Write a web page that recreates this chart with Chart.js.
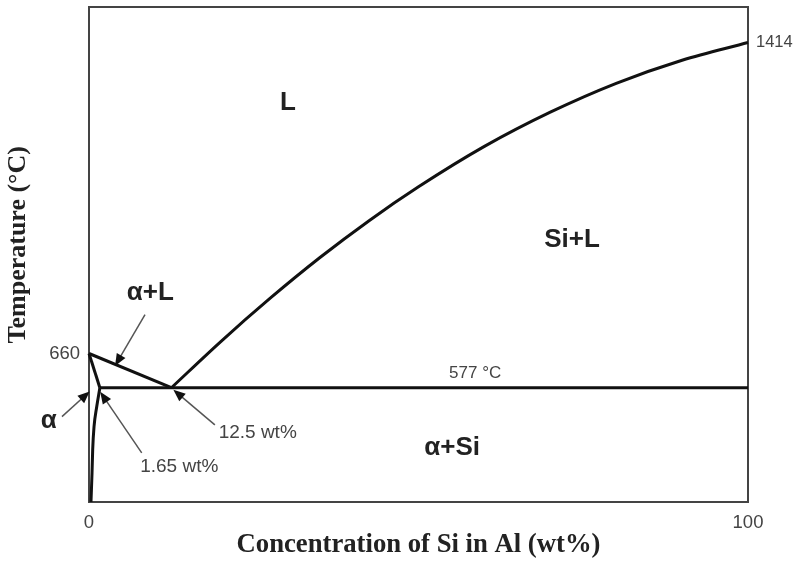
<!DOCTYPE html>
<html>
<head>
<meta charset="utf-8">
<script src="https://cdn.jsdelivr.net/npm/chart.js@4.4.0/dist/chart.umd.min.js"></script>
<style>
  body { margin: 0; background: #fff; }
  canvas { display: block; }
</style>
</head>
<body>
<canvas id="phaseChart" width="801" height="562"></canvas>
<script>
// Al-Si phase diagram: composition in wt% Si, temperature in °C
const liquidusSiX = [12.5, 20, 27.5, 35, 42.5, 50, 60, 70, 80, 90, 100];
const liquidusSiT = [577, 689, 794, 892, 982, 1064, 1162, 1245, 1315, 1371, 1414];
const liquidusAlX = [0, 12.5];
const liquidusAlT = [660, 577];
const solidusX = [0, 1.65];
const solidusT = [660, 577];
const solvusX = [0.3, 0.46, 0.56, 0.76, 1.17, 1.65];
const solvusT = [300, 371, 427, 482, 531, 577];
const eutecticX = [1.65, 100];
const eutecticT = [577, 577];

const xTicks = [0, 100];
const yLeftTicks = [660];
const yRightTicks = [1414];

// region names and notes: [text, x, T]
const phaseLabels = [
  ["L", 30.2, 1268],
  ["Si+L", 73.3, 936],
  ["α+L", 9.3, 807],
  ["α", -6.1, 496],
  ["α+Si", 55.1, 431]
];
const noteLabels = [
  ["577 °C", 58.6, 612, 17],
  ["12.5 wt%", 25.6, 468, 19],
  ["1.65 wt%", 13.7, 385, 19]
];
// arrows: [tailX, tailT, tipX, tipT]
const arrows = [
  [8.5, 754, 3.95, 630],
  [-4.1, 507, 0.1, 568],
  [8.0, 419, 1.7, 567],
  [19.1, 487, 12.8, 572]
];

function toPoints(xs, ts) {
  return xs.map((x, i) => ({ x: x, y: ts[i] }));
}

function phaseLine(xs, ts, smooth) {
  return {
    data: toPoints(xs, ts),
    showLine: true,
    borderColor: "#111",
    borderWidth: 3,
    pointRadius: 0,
    cubicInterpolationMode: smooth ? "monotone" : "default",
    clip: false
  };
}

const annotationPlugin = {
  id: "phaseNotes",
  afterDatasetsDraw(chart) {
    const ctx = chart.ctx;
    const sx = chart.scales.x;
    const sy = chart.scales.y;
    ctx.save();

    arrows.forEach(a => {
      const x0 = sx.getPixelForValue(a[0]), y0 = sy.getPixelForValue(a[1]);
      const x1 = sx.getPixelForValue(a[2]), y1 = sy.getPixelForValue(a[3]);
      const ang = Math.atan2(y1 - y0, x1 - x0);
      ctx.strokeStyle = "#555";
      ctx.lineWidth = 1.5;
      ctx.beginPath();
      ctx.moveTo(x0, y0);
      ctx.lineTo(x1 - 6 * Math.cos(ang), y1 - 6 * Math.sin(ang));
      ctx.stroke();
      // arrow head
      const len = 12, half = 5;
      const bx = x1 - len * Math.cos(ang), by = y1 - len * Math.sin(ang);
      ctx.fillStyle = "#111";
      ctx.beginPath();
      ctx.moveTo(x1, y1);
      ctx.lineTo(bx + half * Math.sin(ang), by - half * Math.cos(ang));
      ctx.lineTo(bx - half * Math.sin(ang), by + half * Math.cos(ang));
      ctx.closePath();
      ctx.fill();
    });

    ctx.textAlign = "center";
    ctx.textBaseline = "middle";
    ctx.fillStyle = "#222";
    ctx.font = "bold 26px 'Liberation Sans', Arial, sans-serif";
    phaseLabels.forEach(l => {
      ctx.fillText(l[0], sx.getPixelForValue(l[1]), sy.getPixelForValue(l[2]));
    });
    ctx.fillStyle = "#444";
    noteLabels.forEach(l => {
      ctx.font = l[3] + "px 'Liberation Sans', Arial, sans-serif";
      ctx.fillText(l[0], sx.getPixelForValue(l[1]), sy.getPixelForValue(l[2]));
    });
    ctx.restore();
  }
};

const tickFont = { family: "'Liberation Sans', Arial, sans-serif", size: 18.5 };
const rightTickFont = { family: "'Liberation Sans', Arial, sans-serif", size: 16.5 };
const titleFont = { family: "'Liberation Serif', 'Times New Roman', serif", size: 26.7, weight: "bold" };
const yTitleFont = { family: "'Liberation Serif', 'Times New Roman', serif", size: 26, weight: "bold" };
const frame = { color: "#444", width: 2 };
const noGrid = { display: false, drawTicks: false };
const plainTick = v => String(v);

// keep the plot box fixed: no extra room for tick label overhang
function fixBox(s, w, h) {
  if (w !== null) s.width = w;
  if (h !== null) s.height = h;
  s.paddingTop = 0;
  s.paddingBottom = 0;
  s.paddingLeft = 0;
  s.paddingRight = 0;
}

new Chart(document.getElementById("phaseChart"), {
  type: "scatter",
  data: {
    datasets: [
      phaseLine(liquidusSiX, liquidusSiT, true),
      phaseLine(liquidusAlX, liquidusAlT, false),
      phaseLine(solidusX, solidusT, false),
      phaseLine(solvusX, solvusT, true),
      phaseLine(eutecticX, eutecticT, false)
    ]
  },
  options: {
    responsive: false,
    animation: false,
    layout: { padding: 0 },
    plugins: { legend: { display: false }, tooltip: { enabled: false } },
    scales: {
      x: {
        type: "linear", position: "bottom", min: 0, max: 100,
        grid: noGrid, border: frame,
        ticks: { font: tickFont, color: "#444", padding: 10, maxRotation: 0, callback: plainTick },
        afterBuildTicks: s => { s.ticks = xTicks.map(v => ({ value: v })); },
        afterFit: s => fixBox(s, null, 60),
        title: { display: true, text: "Concentration of Si in Al (wt%)", font: titleFont, color: "#222", padding: { top: 0, bottom: 1 } }
      },
      xTop: {
        type: "linear", position: "top", min: 0, max: 100,
        grid: noGrid, border: frame,
        ticks: { display: false },
        afterFit: s => fixBox(s, null, 7)
      },
      y: {
        type: "linear", position: "left", min: 300, max: 1500,
        grid: noGrid, border: frame,
        ticks: { font: tickFont, color: "#444", padding: 9, callback: plainTick },
        afterBuildTicks: s => { s.ticks = yLeftTicks.map(v => ({ value: v })); },
        afterFit: s => fixBox(s, 89, null),
        title: { display: true, text: "   Temperature (°C)", font: yTitleFont, color: "#222", padding: { top: 3, bottom: 0 } }
      },
      yRight: {
        type: "linear", position: "right", min: 300, max: 1500,
        grid: noGrid, border: frame,
        ticks: { font: rightTickFont, color: "#444", padding: 8, callback: plainTick },
        afterBuildTicks: s => { s.ticks = yRightTicks.map(v => ({ value: v })); },
        afterFit: s => fixBox(s, 53, null)
      }
    }
  },
  plugins: [annotationPlugin]
});
</script>
</body>
</html>
